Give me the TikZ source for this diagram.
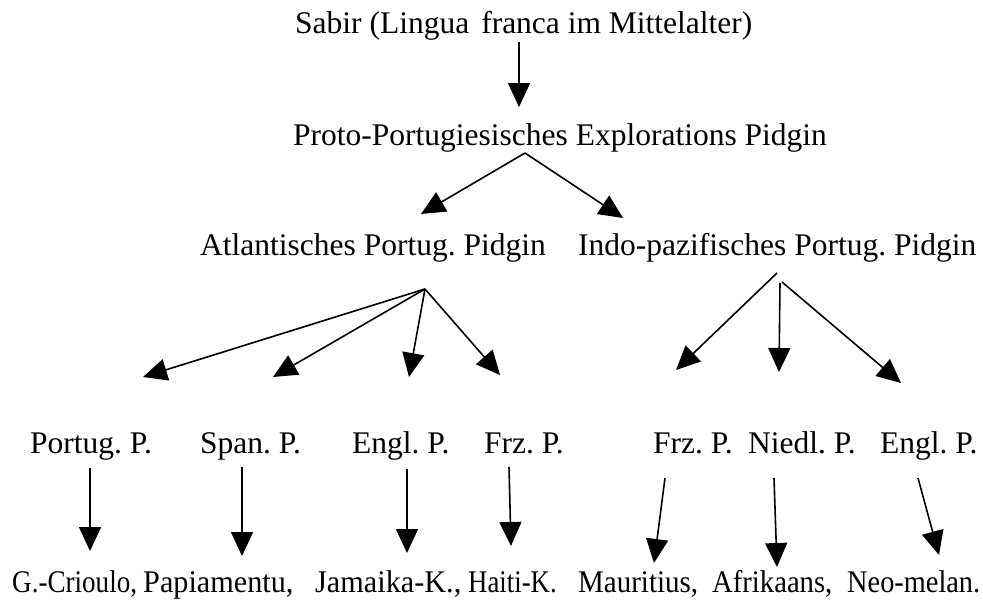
\documentclass[tikz,border=0pt]{standalone}
\usepackage{fontspec}
\setmainfont{Liberation Serif}
\usetikzlibrary{arrows.meta}
\frenchspacing
\begin{document}
\begin{tikzpicture}[x=1pt,y=-1pt,
  lbl/.style={anchor=base west,inner sep=0pt,font=\fontsize{31.5}{36}\selectfont},
  arr/.style={line width=1.6pt,-{Triangle[length=24pt,width=22pt]}}]
\useasboundingbox (0,0) rectangle (983,608);
% texts
\node[lbl] (sabir) at (295,33) {Sabir (Lingua\hspace{12pt}franca im Mittelalter)};
\node[lbl] (proto) at (293,145) {Proto-Portugiesisches Explorations Pidgin};
\node[lbl] (atl) at (200,255) {Atlantisches Portug. Pidgin};
\node[lbl] (indo) at (578,255) {Indo-pazifisches Portug. Pidgin};
\node[lbl] (pp) at (30,453) {Portug. P.};
\node[lbl] (sp) at (200,453) {Span. P.};
\node[lbl] (ep) at (352,453) {Engl. P.};
\node[lbl] (fp) at (484,453) {Frz. P.};
\node[lbl] (fp2) at (653,453) {Frz. P.};
\node[lbl] (np) at (748,453) {Niedl. P.};
\node[lbl] (ep2) at (880,453) {Engl. P.};
\node[lbl] (gc) at (12,592) {\scalebox{0.86}[1]{G.-Crioulo,}};
\node[lbl] (pa) at (143,592) {\scalebox{0.96}[1]{Papiamentu,}};
\node[lbl] (jk) at (315,592) {\scalebox{0.96}[1]{Jamaika-K.,}};
\node[lbl] (hk) at (468,592) {\scalebox{0.85}[1]{Haiti-K.}};
\node[lbl] (mu) at (578,592) {\scalebox{0.92}[1]{Mauritius,}};
\node[lbl] (af) at (712,592) {\scalebox{0.91}[1]{Afrikaans,}};
\node[lbl] (nm) at (847,592) {\scalebox{0.9}[1]{Neo-melan.}};
% arrow end points
\coordinate (s0) at (519,42);  \coordinate (t0) at (519,107);
\coordinate (s1) at (525,153); \coordinate (t1a) at (421,214); \coordinate (t1b) at (623,218);
\coordinate (s2) at (425,289);
\coordinate (t2a) at (143,377); \coordinate (t2b) at (273,377);
\coordinate (t2c) at (409,377); \coordinate (t2d) at (500,375);
\coordinate (s3a) at (777,273); \coordinate (t3a) at (676,370);
\coordinate (s3b) at (780,283); \coordinate (t3b) at (779,372);
\coordinate (s3c) at (782,282); \coordinate (t3c) at (901,383);
\coordinate (s4a) at (90,468);  \coordinate (t4a) at (90,551);
\coordinate (s4b) at (242,467); \coordinate (t4b) at (242,556);
\coordinate (s4c) at (407,469); \coordinate (t4c) at (407,553);
\coordinate (s4d) at (509,467); \coordinate (t4d) at (511,546);
\coordinate (s4e) at (665,478); \coordinate (t4e) at (654,563);
\coordinate (s4f) at (774,478); \coordinate (t4f) at (777,567);
\coordinate (s4g) at (918,478); \coordinate (t4g) at (939,555);
% arrows
\draw[arr] (s0) -- (t0);
\draw[arr] (s1) -- (t1a);
\draw[arr] (s1) -- (t1b);
\draw[arr] (s2) -- (t2a);
\draw[arr] (s2) -- (t2b);
\draw[arr] (s2) -- (t2c);
\draw[arr] (s2) -- (t2d);
\draw[arr] (s3a) -- (t3a);
\draw[arr] (s3b) -- (t3b);
\draw[arr] (s3c) -- (t3c);
\draw[arr] (s4a) -- (t4a);
\draw[arr] (s4b) -- (t4b);
\draw[arr] (s4c) -- (t4c);
\draw[arr] (s4d) -- (t4d);
\draw[arr] (s4e) -- (t4e);
\draw[arr] (s4f) -- (t4f);
\draw[arr] (s4g) -- (t4g);
\end{tikzpicture}
\end{document}
